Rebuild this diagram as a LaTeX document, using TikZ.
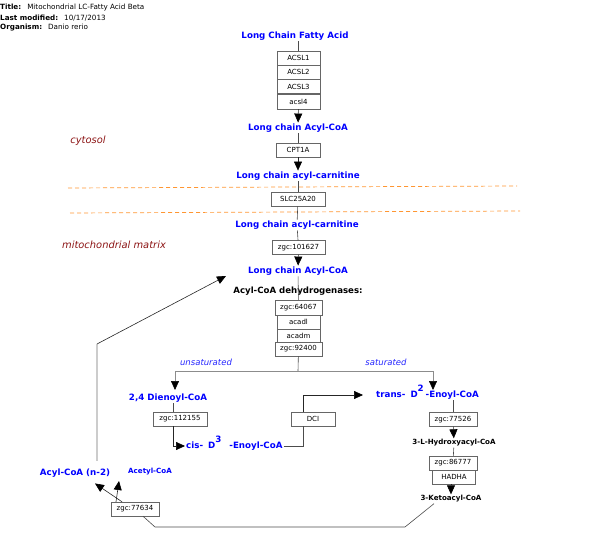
\documentclass[tikz,border=0pt]{standalone}
\usepackage{fontspec}
\setmainfont{DejaVu Sans}
\usetikzlibrary{arrows.meta,positioning}
\definecolor{matrixred}{RGB}{140,20,20}
\definecolor{membraneorange}{RGB}{255,150,50}
\newcommand{\raisedsup}[1]{\smash{\raisebox{6pt}{#1}}}
\tikzset{
    metab/.style={text=blue, font=\fontsize{8.7}{10}\selectfont\bfseries, inner sep=1pt},
    smallmetab/.style={font=\fontsize{7.1}{8}\selectfont\bfseries, inner sep=1pt},
    gene/.style={draw=black!60, fill=white, font=\fontsize{7}{8}\selectfont, minimum width=43pt, minimum height=14pt, inner sep=1pt},
    edge/.style={draw=black!85, line width=0.6pt, -{Triangle[length=9pt,width=8pt,color=black]}},
    link/.style={draw=black!70, line width=0.6pt},
    lightlink/.style={draw=black!20, line width=1.2pt},
    membrane/.style={draw=membraneorange, line width=0.7pt, dash pattern=on 4pt off 3pt},
    compartment/.style={text=matrixred, font=\fontsize{9.9}{11}\selectfont\itshape},
    branchlabel/.style={text=blue!85, font=\fontsize{8.5}{10}\selectfont\itshape},
    header/.style={anchor=west, font=\fontsize{7.2}{8}\selectfont, inner sep=0pt}
}

\begin{document}
\begin{tikzpicture}[x=1pt, y=-1pt]
    \useasboundingbox (0,0) rectangle (596,537);

    % header
    \node[header] (title) at (0,8) {\textbf{Title:}\hspace{6pt}Mitochondrial LC-Fatty Acid Beta};
    \node[header] (modified) at (0,18) {\textbf{Last modified:}\hspace{6pt}10/17/2013};
    \node[header] (organism) at (0,28) {\textbf{Organism:}\hspace{6pt}Danio rerio};

    % compartments
    \node[compartment] (cytosol) at (88,141) {cytosol};
    \node[compartment] (matrix) at (114,245) {mitochondrial matrix};
    \draw[membrane] (68,188) -- (517,186);
    \draw[membrane] (70,213) -- (520,211);

    % Nodes
    \node[metab] (lcfa) at (295,36) {Long Chain Fatty Acid};
    \node[gene] (acsl1) at (298.5,58) {ACSL1};
    \node[gene] (acsl2) at (298.5,72) {ACSL2};
    \node[gene] (acsl3) at (298.5,86.5) {ACSL3};
    \node[gene, minimum height=15pt] (acsl4) at (298.5,101.5) {acsl4};
    \node[metab] (lcacoa) at (298,128) {Long chain Acyl-CoA};
    \node[gene, minimum width=44pt] (cpt1a) at (298,150) {CPT1A};
    \node[metab] (lccarn) at (298,176) {Long chain acyl-carnitine};
    \node[gene, minimum width=54pt] (slc25a20) at (298,199) {SLC25A20};
    \node[metab] (lccarnm) at (297,225) {Long chain acyl-carnitine};
    \node[gene, minimum width=53pt] (zgc101627) at (298.5,247.5) {zgc:101627};
    \node[metab] (lcacoam) at (298,271) {Long chain Acyl-CoA};
    \node[font=\fontsize{8.6}{10}\selectfont\bfseries, inner sep=1pt] (acdh) at (298,291) {Acyl-CoA dehydrogenases:};
    \node[gene, minimum width=47pt, minimum height=15pt] (zgc64067) at (298.5,307.5) {zgc:64067};
    \node[gene] (acadl) at (298.5,322) {acadl};
    \node[gene, minimum height=13pt] (acadm) at (298.5,335.5) {acadm};
    \node[gene, minimum width=47pt] (zgc92400) at (298.5,349) {zgc:92400};
    \coordinate (split) at (298,371);
    \node[branchlabel] (unsat) at (206,362) {unsaturated};
    \node[branchlabel] (sat) at (386,362) {saturated};
    \coordinate (unsatTip) at (175,390);
    \coordinate (satTip) at (433,390);

    \node[metab] (dienoyl) at (168,398) {2,4 Dienoyl-CoA};
    \node[gene, minimum width=54pt] (zgc112155) at (180,419) {zgc:112155};
    \node[metab, anchor=west] (cis) at (185,446) {cis-\hspace{5pt}D\raisedsup{3}\hspace{8pt}-Enoyl-CoA};
    \node[gene, minimum width=44pt] (dci) at (313,419) {DCI};
    \node[metab, anchor=west] (trans) at (375,395) {trans-\hspace{5pt}D\rlap{\raisedsup{2}}\hspace{8pt}-Enoyl-CoA};
    \node[gene, minimum width=48pt] (zgc77526) at (453,419.5) {zgc:77526};
    \node[smallmetab] (hydroxy) at (454,443) {3-L-Hydroxyacyl-CoA};
    \node[gene, minimum width=48pt] (zgc86777) at (453,463) {zgc:86777};
    \node[gene] (hadha) at (454,477) {HADHA};
    \node[smallmetab] (keto) at (451,499) {3-Ketoacyl-CoA};
    \node[gene, minimum width=48pt] (zgc77634) at (135,509) {zgc:77634};
    \node[metab] (acyln2) at (75,473) {Acyl-CoA (n-2)};
    \node[metab, font=\fontsize{7.1}{8}\selectfont\bfseries] (acetyl) at (150,472) {Acetyl-CoA};
    \coordinate (acetylTip) at (119,481);
    \coordinate (returnBend) at (97,344);
    \coordinate (ketoLow) at (405,527);
    \coordinate (geneLow) at (155,527);

    % edges
    \draw[link] (lcfa.south -| acsl1) -- (acsl1.north);
    \draw[edge] (acsl4) -- (lcacoa);
    \draw[link] (lcacoa) -- (cpt1a);
    \draw[edge] (cpt1a) -- (lccarn);
    \draw[link] (lccarn) -- (slc25a20);
    \draw[link] (slc25a20) -- (lccarnm);
    \draw[link] (lccarnm) -- (zgc101627);
    \draw[edge] (zgc101627) -- (lcacoam);
    \draw[link] (lcacoam) -- (zgc64067);
    \draw[link] (zgc92400) -- (split);
    \draw[edge, draw=black!45] (split) -| (unsatTip);
    \draw[edge, draw=black!45] (split) -| (satTip);
    \draw[link] (dienoyl.south -| 173,0) -- (zgc112155.north -| 173,0);
    \draw[edge] (zgc112155.south -| 173,0) |- (cis.west);
    \draw[link] (cis.east) -| ([xshift=-10pt]dci.south);
    \draw[edge] ([xshift=-10pt]dci.north) |- ([xshift=-12pt]trans.west);
    \draw[link] (trans.south -| zgc77526.north) -- (zgc77526.north);
    \draw[edge] (zgc77526) -- (hydroxy);
    \draw[link] (hydroxy) -- (zgc86777);
    \draw[edge] (hadha.south -| keto.north) -- (keto);
    \draw[link] ([xshift=-17pt]keto.south) -- (ketoLow) -- (geneLow) -- ([xshift=8pt]zgc77634.south);
    \draw[edge] ([xshift=-13pt]zgc77634.north) -- ([xshift=20pt,yshift=-5pt]acyln2.south);
    \draw[edge] ([xshift=-19pt]zgc77634.north) -- (acetylTip);
    \draw[lightlink] ([yshift=7pt]acyln2.north -| returnBend) -- (returnBend);
    \draw[edge] (returnBend) -- ([xshift=-21pt,yshift=-5pt]lcacoam.west);
\end{tikzpicture}
\end{document}
